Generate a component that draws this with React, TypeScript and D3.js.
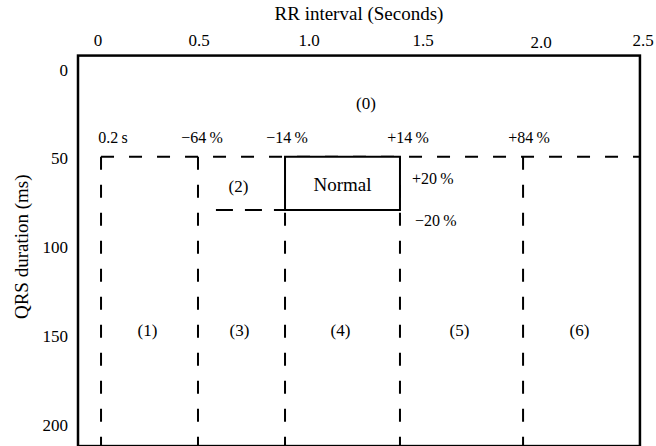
import React from "react";
import * as d3 from "d3";

// Axis ticks (the schematic axis is not evenly spaced)
const xTickValues = [0, 0.5, 1.0, 1.5, 2.0, 2.5];
const xTickLabels = ["0", "0.5", "1.0", "1.5", "2.0", "2.5"];
const yTickValues = [0, 50, 100, 150, 200];
const yTickLabels = ["0", "50", "100", "150", "200"];

// Plot frame extent in data units
const frameRR = [-0.099, 2.485];
const frameQRS = [-7, 213];

// Vertical boundaries (RR, seconds on the schematic axis)
const rrBoundaries = [0.015, 0.495, 0.891, 1.399, 1.924];
const boundaryLabels = ["0.2\u2009s", "\u221264\u2009%", "\u221214\u2009%", "+14\u2009%", "+84\u2009%"];

// QRS thresholds (ms)
const qrsUpper = 50;
const qrsNormalLow = 80;

// Normal box and region (2)
const normalRR = [0.891, 1.399];
const region2StartRR = 0.577;
const normalBandLabels = ["+20\u2009%", "\u221220\u2009%"];
const normalBandLabelQRS = [62, 86];

// Region labels
const regionLabels = ["(1)", "(3)", "(4)", "(5)", "(6)"];
const regionLabelQRS = 148;
const region0Label = "(0)";
const region0RR = 1.25;
const region0QRS = 20;
const region2Label = "(2)";

const W = 656;
const H = 446;
const FONT = "'Liberation Serif', 'Times New Roman', serif";

export default function App() {
  const x = d3.scaleLinear().domain(xTickValues).range([98, 199, 309, 423, 541, 643]);
  const y = d3.scaleLinear().domain([0, 200]).range([68, 423]);

  const left = x(frameRR[0]);
  const right = x(frameRR[1]);
  const top = y(frameQRS[0]);
  const bottom = y(frameQRS[1]);
  const yU = y(qrsUpper);
  const yL = y(qrsNormalLow);

  const regionEdges = [...rrBoundaries.map((b) => x(b)), right];
  const labelDx = [12, 4, 2, 8, 6];

  return (
    <svg width={W} height={H} style={{ position: "absolute", left: 0, top: 0, background: "#fff" }} fontFamily={FONT}>
      {/* title */}
      <text x={(left + right) / 2} y={20} textAnchor="middle" fontSize={19} fill="#000">
        RR interval (Seconds)
      </text>
      {/* x tick labels */}
      {xTickValues.map((v, i) => (
        <text key={"xt" + i} x={x(v)} y={i === 4 ? 48 : 46} textAnchor="middle" fontSize={17} fill="#000">
          {xTickLabels[i]}
        </text>
      ))}
      {/* y tick labels */}
      {yTickValues.map((v, i) => (
        <text key={"yt" + i} x={left - 10} y={y(v) + 2} textAnchor="end" dominantBaseline="central" fontSize={17} fill="#000">
          {yTickLabels[i]}
        </text>
      ))}
      {/* y label */}
      <text
        transform={`translate(21, ${(top + 446) / 2 - 4}) rotate(-90)`}
        textAnchor="middle"
        dominantBaseline="central"
        fontSize={19}
        fill="#000"
      >
        QRS duration (ms)
      </text>

      {/* frame */}
      <rect x={left} y={top} width={right - left} height={bottom - top} fill="none" stroke="#000" strokeWidth={2.5} />

      {/* top dashed threshold line */}
      <line x1={x(rrBoundaries[0])} x2={right} y1={yU} y2={yU} stroke="#000" strokeWidth={2} strokeDasharray="13,15" />
      {/* vertical dashed boundaries */}
      {rrBoundaries.map((b, i) => (
        <line key={"vb" + i} x1={x(b)} x2={x(b)} y1={yU} y2={bottom} stroke="#000" strokeWidth={2} strokeDasharray="13,15" />
      ))}
      {/* region (2) lower dashed line */}
      <line x1={x(region2StartRR)} x2={x(normalRR[0])} y1={yL} y2={yL} stroke="#000" strokeWidth={2} strokeDasharray="17,12" />

      {/* Normal box */}
      <rect
        x={x(normalRR[0])}
        y={yU}
        width={x(normalRR[1]) - x(normalRR[0])}
        height={yL - yU}
        fill="#fff"
        stroke="#000"
        strokeWidth={2}
      />
      <text x={(x(normalRR[0]) + x(normalRR[1])) / 2} y={(yU + yL) / 2 + 1} textAnchor="middle" dominantBaseline="central" fontSize={19} fill="#000">
        Normal
      </text>

      {/* boundary labels */}
      {rrBoundaries.map((b, i) => (
        <text key={"bl" + i} x={x(b) + labelDx[i]} y={yU - 19} textAnchor="middle" dominantBaseline="central" fontSize={16} fill="#000">
          {boundaryLabels[i]}
        </text>
      ))}

      {/* +20% / -20% */}
      {normalBandLabels.map((t, i) => (
        <text key={"nb" + i} x={x(normalRR[1]) + 12 + i * 3} y={y(normalBandLabelQRS[i])} dominantBaseline="central" fontSize={16} fill="#000">
          {t}
        </text>
      ))}

      {/* region labels */}
      <text x={x(region0RR)} y={y(region0QRS)} textAnchor="middle" dominantBaseline="central" fontSize={17} fill="#000">
        {region0Label}
      </text>
      <text x={(x(rrBoundaries[1]) + x(normalRR[0])) / 2 - 3} y={(yU + yL) / 2 + 3} textAnchor="middle" dominantBaseline="central" fontSize={17} fill="#000">
        {region2Label}
      </text>
      {regionLabels.map((t, i) => (
        <text
          key={"rl" + i}
          x={(regionEdges[i] + regionEdges[i + 1]) / 2 - 2}
          y={y(regionLabelQRS)}
          textAnchor="middle"
          dominantBaseline="central"
          fontSize={17}
          fill="#000"
        >
          {t}
        </text>
      ))}
    </svg>
  );
}
